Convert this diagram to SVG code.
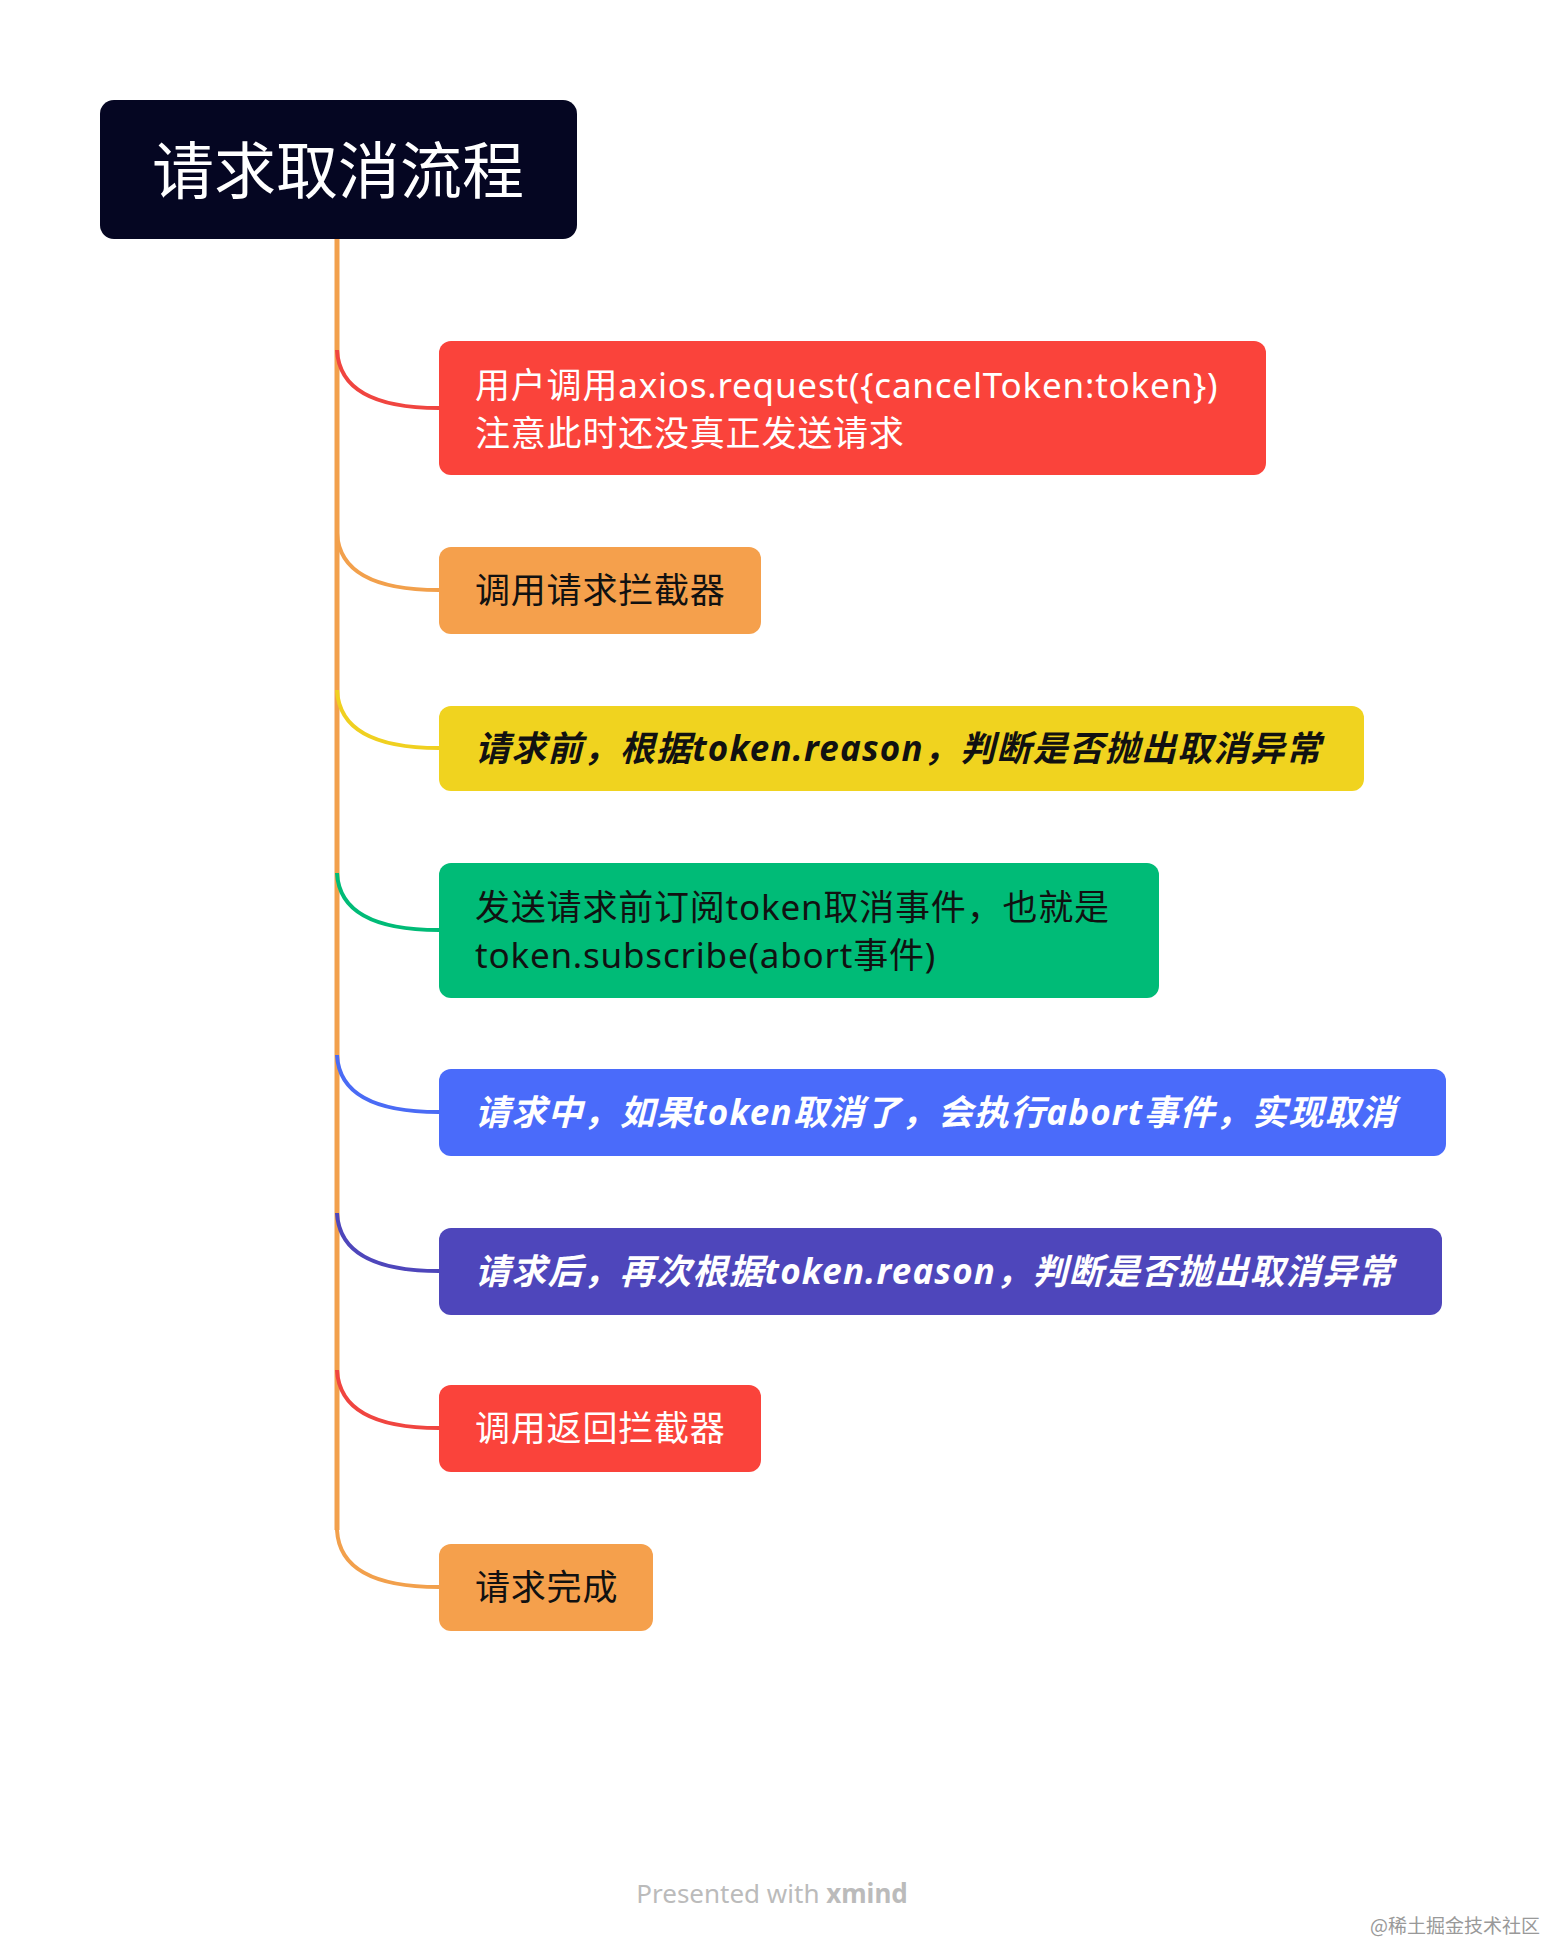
<svg xmlns="http://www.w3.org/2000/svg" width="1546" height="1942" viewBox="0 0 1546 1942">
<style>
.t{font-family:"Noto Sans","Noto Sans CJK SC",sans-serif;font-size:35px;letter-spacing:0.8px}
.bi{font-weight:bold;font-style:italic;letter-spacing:1.2px}
.c{fill:none;stroke-width:4}
</style>
<rect width="1546" height="1942" fill="#fff"/>
<g id="connectors">
<path d="M337,239 V1530" stroke="#F2A04C" stroke-width="5" fill="none"/>
<path class="c" stroke="#F04540" d="M337,350 Q340,408 439,408"/>
<path class="c" stroke="#F2A04C" d="M337,533 Q340,590 439,590"/>
<path class="c" stroke="#F0D020" d="M337,690 Q340,748 439,748"/>
<path class="c" stroke="#00BB77" d="M337,873 Q340,930 439,930"/>
<path class="c" stroke="#4A6BF5" d="M337,1055 Q340,1112 439,1112"/>
<path class="c" stroke="#4E46BB" d="M337,1213 Q340,1271 439,1271"/>
<path class="c" stroke="#F04540" d="M337,1370 Q340,1428 439,1428"/>
<path class="c" stroke="#F2A04C" d="M337,1530 Q340,1587 439,1587"/>
</g>
<g id="root"><rect x="100" y="100" width="477" height="139" rx="14" fill="#050622"/>
<text x="338" y="194" text-anchor="middle" fill="#fff" style="font-family:'Noto Sans CJK SC',sans-serif;font-size:62px">请求取消流程</text></g>
<g id="n1"><rect x="439" y="341" width="827" height="134" rx="12" fill="#FA433B"/>
<text class="t" x="475" y="398" fill="#fff">用户调用axios.request({cancelToken:token})</text>
<text class="t" x="475" y="446" fill="#fff">注意此时还没真正发送请求</text></g>
<g id="n2"><rect x="439" y="547" width="322" height="87" rx="12" fill="#F5A04C"/>
<text class="t" x="475" y="603" fill="#111">调用请求拦截器</text></g>
<g id="n3"><rect x="439" y="706" width="925" height="85" rx="12" fill="#F0D31F"/>
<text class="t bi" x="475" y="761" fill="#111">请求前，根据token.reason，判断是否抛出取消异常</text></g>
<g id="n4"><rect x="439" y="863" width="720" height="135" rx="12" fill="#00BB77"/>
<text class="t" x="475" y="920" fill="#111">发送请求前订阅token取消事件，也就是</text>
<text class="t" x="475" y="968" fill="#111">token.subscribe(abort事件)</text></g>
<g id="n5"><rect x="439" y="1069" width="1007" height="87" rx="12" fill="#4A6BFA"/>
<text class="t bi" x="475" y="1125" fill="#fff">请求中，如果token取消了，会执行abort事件，实现取消</text></g>
<g id="n6"><rect x="439" y="1228" width="1003" height="87" rx="12" fill="#4E46BB"/>
<text class="t bi" x="475" y="1284" fill="#fff">请求后，再次根据token.reason，判断是否抛出取消异常</text></g>
<g id="n7"><rect x="439" y="1385" width="322" height="87" rx="12" fill="#FA433B"/>
<text class="t" x="475" y="1441" fill="#fff">调用返回拦截器</text></g>
<g id="n8"><rect x="439" y="1544" width="214" height="87" rx="12" fill="#F5A04C"/>
<text class="t" x="475" y="1600" fill="#111">请求完成</text></g>
<text x="772" y="1903" text-anchor="middle" fill="#bbb" style="font-family:'Noto Sans',sans-serif;font-size:26px">Presented with <tspan font-weight="bold">xmind</tspan></text>
<text x="1540" y="1933" text-anchor="end" fill="#999" style="font-family:'Noto Sans CJK SC',serif;font-size:19px">@稀土掘金技术社区</text>
</svg>
